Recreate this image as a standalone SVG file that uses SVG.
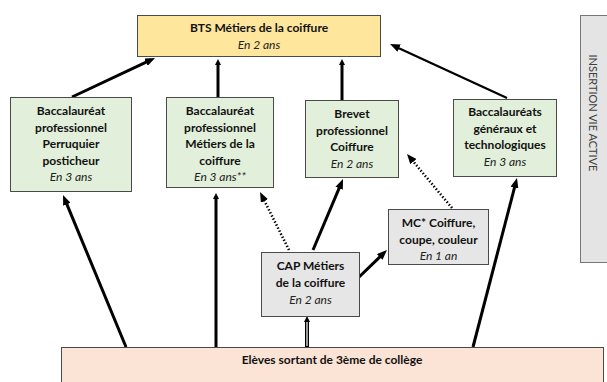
<svg xmlns="http://www.w3.org/2000/svg" width="607" height="382" viewBox="0 0 607 382">
<defs>
<style>
.box{stroke:#4a4a4a;stroke-width:1}
.t{font-family:Lato,"Liberation Sans",sans-serif;font-size:12px;font-weight:bold;fill:#111;text-anchor:middle}
.i{font-family:Lato,"Liberation Sans",sans-serif;font-size:12px;font-style:italic;fill:#222;text-anchor:middle}
.c{fill:none;stroke:#000;stroke-width:3}
.d{fill:none;stroke:#000;stroke-width:2.6;stroke-dasharray:1.4 2}
</style>
<marker id="h" viewBox="0 0 10 8" markerWidth="10" markerHeight="8" refX="2" refY="4" orient="auto" markerUnits="userSpaceOnUse"><path d="M0,0 L10,4 L0,8 z" fill="#000"/></marker>
<marker id="hs" viewBox="0 0 6 6" markerWidth="6" markerHeight="6" refX="1" refY="3" orient="auto" markerUnits="userSpaceOnUse"><path d="M0,0 L6,3 L0,6 z" fill="#000"/></marker>
</defs>
<rect width="607" height="382" fill="#fff"/>
<g id="connectors">
<line class="c" x1="72" y1="97" x2="147.8" y2="61.4" marker-end="url(#h)"/>
<line class="c" x1="218" y1="97" x2="218" y2="64" marker-end="url(#hs)"/>
<line class="c" x1="342" y1="100" x2="342" y2="64" marker-end="url(#hs)"/>
<line class="c" style="stroke-width:2.2" x1="507" y1="98" x2="397.3" y2="47.4" marker-end="url(#h)"/>
<line class="c" x1="126" y1="347" x2="66.1" y2="202.4" marker-end="url(#h)"/>
<line class="c" x1="216" y1="347" x2="216" y2="198" marker-end="url(#hs)"/>
<line class="c" x1="473" y1="347" x2="515" y2="185.7" marker-end="url(#h)"/>
<line class="c" x1="313" y1="250" x2="339.9" y2="186.4" marker-end="url(#h)"/>
<line class="c" x1="357" y1="279" x2="381.2" y2="255.6" marker-end="url(#h)"/>
<line class="d" x1="289" y1="250" x2="263.6" y2="199.2" marker-end="url(#h)"/>
<line class="d" x1="452" y1="208" x2="412.1" y2="160.1" marker-end="url(#h)"/>
<line x1="307" y1="347" x2="307" y2="321" stroke="#000" stroke-width="4" marker-end="url(#hs)"/>
<line x1="307" y1="346" x2="307" y2="322" stroke="#fff" stroke-width="1.2"/>
</g>
<g id="bts">
<rect class="box" x="137.5" y="15.5" width="243" height="41" fill="#fee69c"/>
<text class="t" x="259" y="32">BTS Métiers de la coiffure</text>
<text class="i" x="259" y="49">En 2 ans</text>
</g>
<g id="bacpro-perruquier">
<rect class="box" x="10.5" y="97.5" width="121" height="94" fill="#e2efda"/>
<text class="t" x="71" y="115">Baccalauréat</text>
<text class="t" x="71" y="131.5">professionnel</text>
<text class="t" x="71" y="148">Perruquier</text>
<text class="t" x="71" y="164.5">posticheur</text>
<text class="i" x="71" y="181">En 3 ans</text>
</g>
<g id="bacpro-metiers">
<rect class="box" x="166.5" y="97.5" width="107" height="90" fill="#e2efda"/>
<text class="t" x="220" y="115">Baccalauréat</text>
<text class="t" x="220" y="131.5">professionnel</text>
<text class="t" x="220" y="148">Métiers de la</text>
<text class="t" x="220" y="164.5">coiffure</text>
<text class="i" x="220" y="181">En 3 ans**</text>
</g>
<g id="bp-coiffure">
<rect class="box" x="305.5" y="100.5" width="93" height="77" fill="#e2efda"/>
<text class="t" x="352" y="118">Brevet</text>
<text class="t" x="352" y="134.5">professionnel</text>
<text class="t" x="352" y="151">Coiffure</text>
<text class="i" x="352" y="167.5">En 2 ans</text>
</g>
<g id="bac-generaux">
<rect class="box" x="453.5" y="99.5" width="103" height="77" fill="#e2efda"/>
<text class="t" x="505" y="116">Baccalauréats</text>
<text class="t" x="505" y="132.5">généraux et</text>
<text class="t" x="505" y="149">technologiques</text>
<text class="i" x="505" y="165.5">En 3 ans</text>
</g>
<g id="mc">
<rect class="box" x="388.5" y="209.5" width="100" height="55" fill="#e7e6e6"/>
<text class="t" x="438.5" y="227">MC* Coiffure,</text>
<text class="t" x="438.5" y="243.5">coupe, couleur</text>
<text class="i" x="438.5" y="260">En 1 an</text>
</g>
<g id="cap">
<rect class="box" x="261.5" y="252.5" width="98" height="64" fill="#e7e6e6"/>
<text class="t" x="310.5" y="270">CAP Métiers</text>
<text class="t" x="310.5" y="287">de la coiffure</text>
<text class="i" x="310.5" y="304">En 2 ans</text>
</g>
<g id="eleves">
<rect class="box" x="61.5" y="347.5" width="542" height="50" fill="#fbe4d5"/>
<text class="t" x="332" y="364">Elèves sortant de 3ème de collège</text>
</g>
<g id="insertion">
<rect x="580.5" y="15.5" width="30" height="247" fill="#e4e4e4" stroke="#777" stroke-width="1"/>
<text transform="translate(589,113) rotate(90)" font-family="Lato,'Liberation Sans',sans-serif" font-size="11px" fill="#404040" text-anchor="middle">INSERTION VIE ACTIVE</text>
</g>
</svg>
